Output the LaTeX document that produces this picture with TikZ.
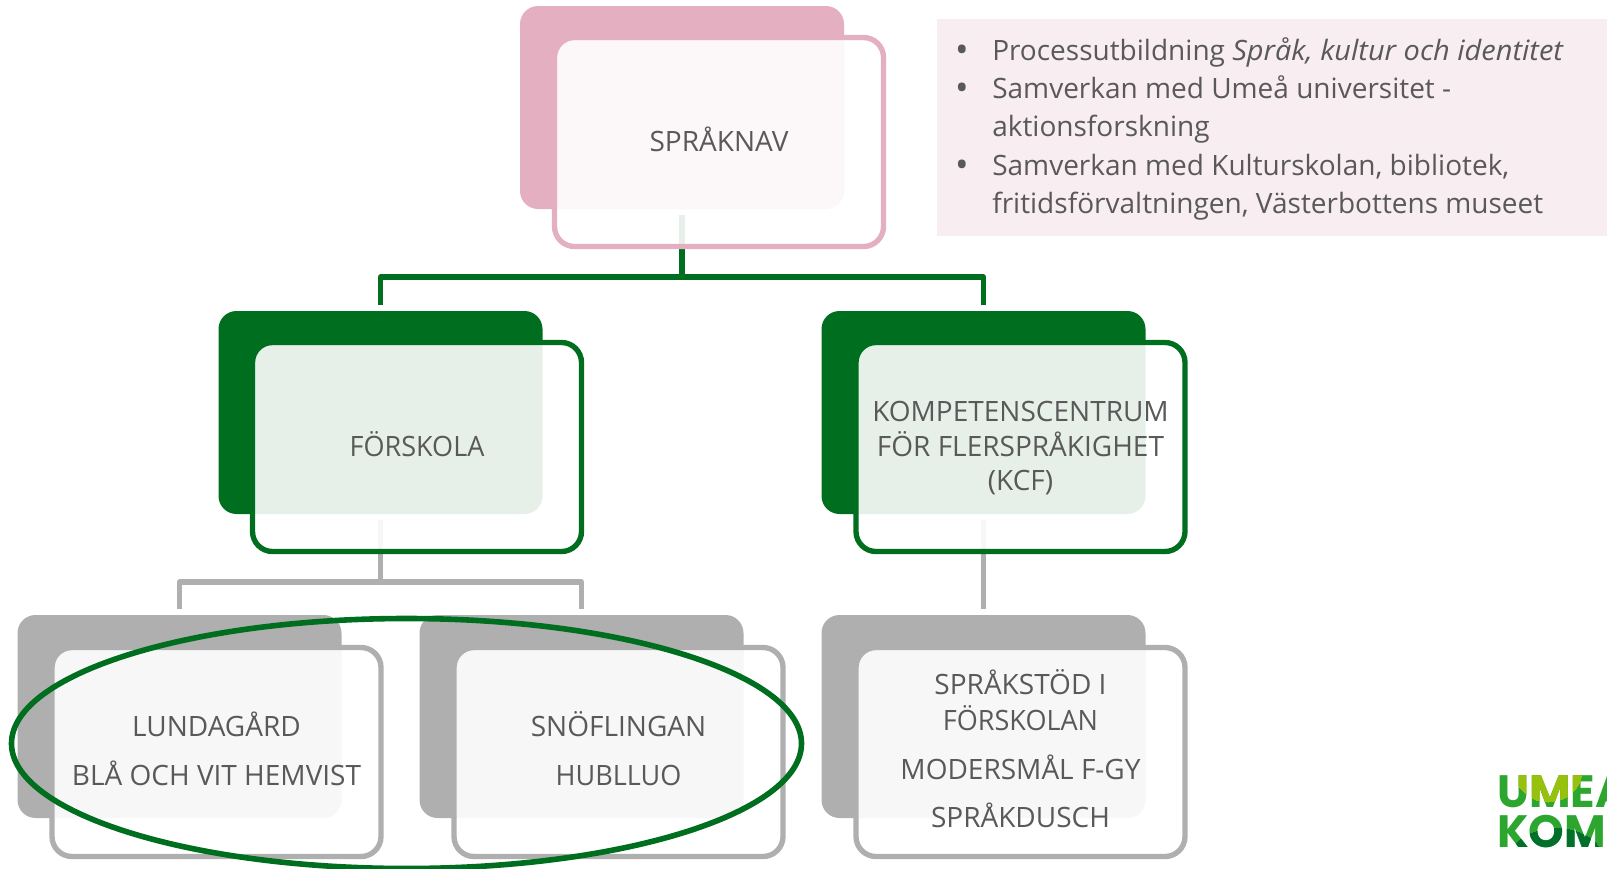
\documentclass[tikz,border=0pt]{standalone}
\usepackage{fontspec}
\setmainfont{Open Sans}
\newfontfamily\logofont{Poppins}[UprightFont=* Bold]
\usetikzlibrary{shapes.geometric,calc}
\definecolor{pinkc}{HTML}{E4B0C1}
\definecolor{greenc}{HTML}{006E1F}
\definecolor{greyc}{HTML}{AFAFAF}
\definecolor{panelc}{HTML}{F8EDF1}
\definecolor{textc}{HTML}{595959}
\definecolor{logoA}{HTML}{2CA62F}
\definecolor{logoB}{HTML}{97C10D}
\definecolor{logoC}{HTML}{00702A}
\newcommand\hs{\rule{0pt}{22pt}}
\newcommand\ls{\rule[-8.5pt]{0pt}{8.5pt}}
\newcommand\nrw[1]{\scalebox{0.965}[1]{#1}}
\newcommand\logotext{%
  \node[logotxt] (logoU) at (1497,807) {UMEÅ};
  \node[logotxt] (logoK) at (1497,847) {KOMMUN};}
\tikzset{
  backbox/.style={fill=#1,rounded corners=13.5pt,minimum width=243pt,minimum height=152.25pt,inner sep=0pt,outer sep=0pt},
  frontbox/.style={draw=#1,fill=white,fill opacity=0.9,text opacity=1,line width=4pt,rounded corners=15pt,minimum width=246.75pt,minimum height=156.75pt,inner sep=0pt,outer sep=0pt,align=center,text=textc,font=\fontsize{21}{25.9}\selectfont},
  conn/.style={draw=#1,line width=4pt,line join=round},
  listline/.style={anchor=base west,inner sep=0pt,text=textc,font=\fontsize{21}{28.8}\selectfont},
  listbullet/.style={anchor=base,inner sep=0pt,text=textc,font=\fontsize{27}{27}\selectfont},
  logotxt/.style={anchor=base west,inner sep=0pt,text=logoA,font=\logofont\fontsize{34}{34}\selectfont},
}
\begin{document}
\begin{tikzpicture}[x=0.75pt,y=-0.75pt]
\useasboundingbox (0,0) rectangle (1607,868);
\coordinate (busTop) at (0,277);
\coordinate (busLow) at (0,582);
% text panel
\node[fill=panelc,anchor=north west,minimum width=502.5pt,minimum height=162.75pt,inner sep=0pt,outer sep=0pt] (panel) at (937,19) {};
\node[listbullet] (b1) at (962,62) {•};
\node[listline] (l1) at (992,60) {Processutbildning \scalebox{1.035}[1]{\textit{Språk, kultur och identitet}}};
\node[listbullet] (b2) at (962,100) {•};
\node[listline] (l2) at (992,98) {Samverkan med Umeå universitet -};
\node[listline] (l3) at (992,136.5) {aktionsforskning};
\node[listbullet] (b3) at (962,177) {•};
\node[listline] (l4) at (992,175) {Samverkan med Kulturskolan, bibliotek,};
\node[listline] (l5) at (992,213) {fritidsförvaltningen, Västerbottens museet};
% back boxes
\node[backbox=pinkc] (sB) at (682,107.5) {};
\node[backbox=greenc] (fB) at (380.5,412.5) {};
\node[backbox=greenc] (kB) at (983.5,412.5) {};
\node[backbox=greyc] (lB) at (179.5,716.5) {};
\node[backbox=greyc] (nB) at (581.5,716.5) {};
\node[backbox=greyc] (mB) at (983.5,716.5) {};
% connectors
\draw[conn=greenc] ([yshift=-4.5pt]sB.south) -- (sB.south |- busTop);
\draw[conn=greenc] ([yshift=4.5pt]fB.north) -- (fB.north |- busTop) -- (kB.north |- busTop) -- ([yshift=4.5pt]kB.north);
\draw[conn=greyc] ([yshift=-4.5pt]fB.south) -- (fB.south |- busLow);
\draw[conn=greyc] ([yshift=4.5pt]lB.north) -- (lB.north |- busLow) -- (nB.north |- busLow) -- ([yshift=4.5pt]nB.north);
\draw[conn=greyc] ([yshift=-4.5pt]kB.south) -- ([yshift=4.5pt]mB.north);
% front boxes
\node[frontbox=pinkc] (sF) at (719,142) {\hs SPRÅKNAV\ls};
\node[frontbox=greenc] (fF) at (417,447) {\hs\nrw{FÖRSKOLA}\ls};
\node[frontbox=greenc] (kF) at (1020.5,447) {\hs KOMPETENSCENTRUM\\FÖR FLERSPRÅKIGHET\\(KCF)\ls};
\node[frontbox=greyc] (lF) at (216.5,752) {\hs LUNDAGÅRD\\[11.5pt]BLÅ OCH VIT HEMVIST\ls};
\node[frontbox=greyc] (nF) at (618.5,752) {\hs SNÖFLINGAN\\[11.5pt]\nrw{HUBLLUO}\ls};
\node[frontbox=greyc] (mF) at (1020.5,752) {\hs SPRÅKSTÖD I\\[0.75pt]\nrw{FÖRSKOLAN}\\[10.75pt]MODERSMÅL F-GY\\[10pt]SPRÅKDUSCH\ls};
% ellipse
\node[ellipse,draw=greenc,line width=4.2pt,minimum width=592.5pt,minimum height=187.5pt,inner sep=0pt,outer sep=0pt] (ring) at (406.5,743.5) {};
% logo
\begin{scope}
\clip (1490,774.5) rectangle (1607,860);
\logotext
\begin{scope}
\clip (1548,770) ellipse [x radius=34,y radius=32];
\tikzset{logotxt/.append style={text=logoB}}
\logotext
\end{scope}
\begin{scope}
\clip (1556,858) ellipse [x radius=46,y radius=30];
\tikzset{logotxt/.append style={text=logoC}}
\logotext
\end{scope}
\end{scope}
\end{tikzpicture}
\end{document}
